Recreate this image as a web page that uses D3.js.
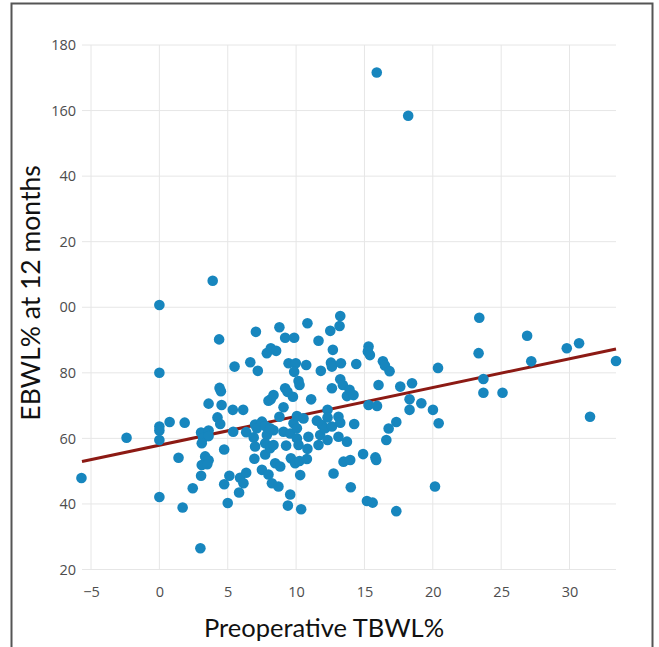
<!DOCTYPE html>
<html>
<head>
<meta charset="utf-8">
<script src="https://cdn.jsdelivr.net/npm/d3@7"></script>
<style>
  body { margin: 0; background: #fff; }
</style>
</head>
<body>
<div id="myChart"></div>
<script>
// preoperative TBWL% (x) and EBWL% at 12 months (y), one pair per patient
const tbwl = [
  -5.7, -2.4, 0, 0, 0, 0, 0, 0, 0.75, 1.85,
  1.4, 1.7, 2.44, 3.0, 3.9, 15.9, 18.2, 3.05, 3.6, 3.2,
  3.6, 3.1, 3.35, 3.6, 3.1, 3.5, 3.05, 3.6, 4.37, 4.4,
  4.5, 4.55, 4.25, 4.45, 4.74, 4.74, 5.0, 5.12, 5.5, 5.37,
  5.4, 5.9, 5.83, 6.15, 6.35, 6.13, 6.35, 6.65, 6.9, 6.95,
  7.0, 7.06, 7.2, 7.0, 7.13, 7.5, 7.74, 7.86, 7.74, 7.5,
  7.98, 7.74, 7.86, 7.98, 8.15, 8.54, 8.15, 8.35, 8.1, 8.35,
  8.35, 8.1, 8.23, 8.71, 8.47, 8.84, 8.78, 8.78, 9.2, 9.86,
  9.45, 9.98, 9.86, 9.2, 9.37, 9.77, 9.08, 9.81, 9.08, 9.57,
  9.27, 9.62, 9.93, 9.57, 9.4, 10.06, 10.06, 10.54, 10.06, 10.18,
  10.83, 10.25, 10.79, 10.3, 10.37, 10.18, 10.25, 10.74, 10.83, 10.9,
  11.1, 11.52, 11.64, 11.81, 11.89, 11.76, 11.64, 12.13, 12.3, 12.3,
  12.3, 12.5, 12.69, 12.55, 12.62, 12.62, 12.62, 12.74, 13.23, 13.18,
  13.28, 13.23, 13.42, 13.72, 13.91, 13.1, 13.23, 13.1, 13.72, 13.47,
  13.96, 14.0, 14.4, 14.25, 14.9, 15.18, 15.3, 15.25, 15.4, 15.3,
  15.92, 15.8, 15.86, 15.6, 16.03, 16.35, 16.5, 16.84, 16.77, 16.6,
  17.33, 17.33, 17.62, 18.48, 18.3, 18.3, 19.16, 20.01, 20.43, 20.38,
  20.16, 23.4, 23.35, 23.7, 23.7, 25.1, 26.9, 27.2, 29.8, 30.7,
  31.5, 33.4, 14.2
];
const ebwl = [
  47.9, 60.2, 100.7, 80, 63.6, 62.4, 59.5, 42.1, 65, 64.8,
  54.1, 38.9, 44.8, 26.5, 108.1, 171.6, 158.4, 61.8, 62.4, 60.1,
  60.7, 58.5, 54.5, 53.3, 51.9, 52.1, 48.6, 70.6, 90.2, 75.4,
  74.4, 70.2, 66.4, 64.4, 56.6, 46, 40.3, 48.6, 81.9, 68.7,
  62, 48, 43.5, 46.3, 49.5, 68.7, 61.9, 83.2, 60.3, 53.8,
  57.5, 92.5, 80.6, 64.2, 63.1, 65.1, 63.8, 61, 55.1, 50.4,
  49, 58.5, 86, 71.5, 87.5, 86.7, 71.9, 73.2, 57, 58,
  62.5, 63.1, 46.3, 45.3, 52.4, 51.4, 93.9, 66.6, 90.7, 90.7,
  82.9, 82.9, 80.3, 75.3, 74.2, 72.7, 69.5, 64.6, 62, 61.5,
  57.8, 53.9, 52.4, 42.9, 39.5, 66.8, 63.1, 66.1, 60, 58,
  56.8, 53.1, 53.7, 48.8, 38.4, 77.5, 76.3, 82.4, 95.1, 60.5,
  71.9, 65.4, 89.8, 80.6, 64.1, 61, 58, 63.1, 59.5, 68.7,
  66.4, 92.8, 87, 83.1, 81.9, 75.3, 63.6, 49.3, 97.3, 94.3,
  82.9, 78, 76.3, 72.9, 74.8, 66.6, 64.8, 60.5, 59, 52.9,
  53.4, 45.1, 82.7, 64.4, 55.2, 40.9, 88, 86.5, 85.4, 70.2,
  69.9, 54.2, 53.4, 40.4, 76.3, 83.5, 82.2, 80.5, 63, 59.5,
  65, 37.8, 75.8, 76.8, 71.9, 68.7, 70.7, 68.7, 64.6, 81.5,
  45.3, 96.8, 86, 78.1, 73.9, 73.9, 91.3, 83.5, 87.5, 89,
  66.6, 83.6, 73.2
];

// fitted regression line y = a + b*x
const fitIntercept = 57.9;
const fitSlope = 0.88;

const xTicks = [-5, 0, 5, 10, 15, 20, 25, 30];
const yTicks = [20, 40, 60, 80, 100, 120, 140, 160, 180];
// the labels as printed in the figure (leading "1" is cut off for 100-140)
const yTickLabels = ["20", "40", "60", "80", "00", "20", "40", "160", "180"];

const W = 659, H = 647;
const margin = {top: 45, right: 43, bottom: 77.5, left: 82};
const width = W - margin.left - margin.right,
      height = H - margin.top - margin.bottom;

const svg = d3.select("#myChart")
  .append("svg")
    .attr("width", W)
    .attr("height", H);

// outer frame
svg.append("rect")
  .attr("x", 11.5).attr("y", 3.5)
  .attr("width", 641).attr("height", 660)
  .attr("fill", "none")
  .attr("stroke", "#555")
  .attr("stroke-width", 2);

const g = svg.append("g")
  .attr("transform", `translate(${margin.left}, ${margin.top})`);

const x = d3.scaleLinear().domain([-5.66, 33.4]).range([0, width]);
const y = d3.scaleLinear().domain([20, 180]).range([height, 0]);

// grid
g.selectAll(".vgrid")
  .data(xTicks)
  .join("line")
    .attr("x1", d => x(d)).attr("x2", d => x(d))
    .attr("y1", 0).attr("y2", height)
    .attr("stroke", "#e6e6e6").attr("stroke-width", 1);

g.selectAll(".hgrid")
  .data(yTicks)
  .join("line")
    .attr("x1", 0).attr("x2", width)
    .attr("y1", d => y(d)).attr("y2", d => y(d))
    .attr("stroke", "#e6e6e6").attr("stroke-width", 1);

// axes (text only, no domain line)
const xAxis = g.append("g")
  .attr("transform", `translate(0, ${height})`)
  .call(d3.axisBottom(x).tickValues(xTicks).tickSize(0).tickPadding(17));
const yAxis = g.append("g")
  .call(d3.axisLeft(y).tickValues(yTicks).tickSize(0).tickPadding(6)
    .tickFormat((d, i) => yTickLabels[i]));

[xAxis, yAxis].forEach(a => {
  a.select(".domain").remove();
  a.selectAll("text")
    .attr("font-family", "'Open Sans', sans-serif")
    .attr("font-size", "14.5px")
    .attr("fill", "#4d4d4d");
});

// regression line
const xd = x.domain();
g.append("line")
  .attr("x1", x(xd[0])).attr("y1", y(fitIntercept + fitSlope * xd[0]))
  .attr("x2", x(xd[1])).attr("y2", y(fitIntercept + fitSlope * xd[1]))
  .attr("stroke", "#8c1a14")
  .attr("stroke-width", 3);

// points
g.selectAll("circle")
  .data(d3.zip(tbwl, ebwl))
  .join("circle")
    .attr("cx", d => x(d[0]))
    .attr("cy", d => y(d[1]))
    .attr("r", 5.3)
    .attr("fill", "#1786be");

// axis titles
svg.append("text")
  .attr("x", 324).attr("y", 637)
  .attr("text-anchor", "middle")
  .attr("font-family", "Lato, sans-serif")
  .attr("font-size", "25.5px")
  .attr("fill", "#111")
  .text("Preoperative TBWL%");

svg.append("text")
  .attr("transform", "translate(40, 293) rotate(-90)")
  .attr("text-anchor", "middle")
  .attr("font-family", "Lato, sans-serif")
  .attr("font-size", "26.5px")
  .attr("fill", "#111")
  .text("EBWL% at 12 months");
</script>
</body>
</html>
